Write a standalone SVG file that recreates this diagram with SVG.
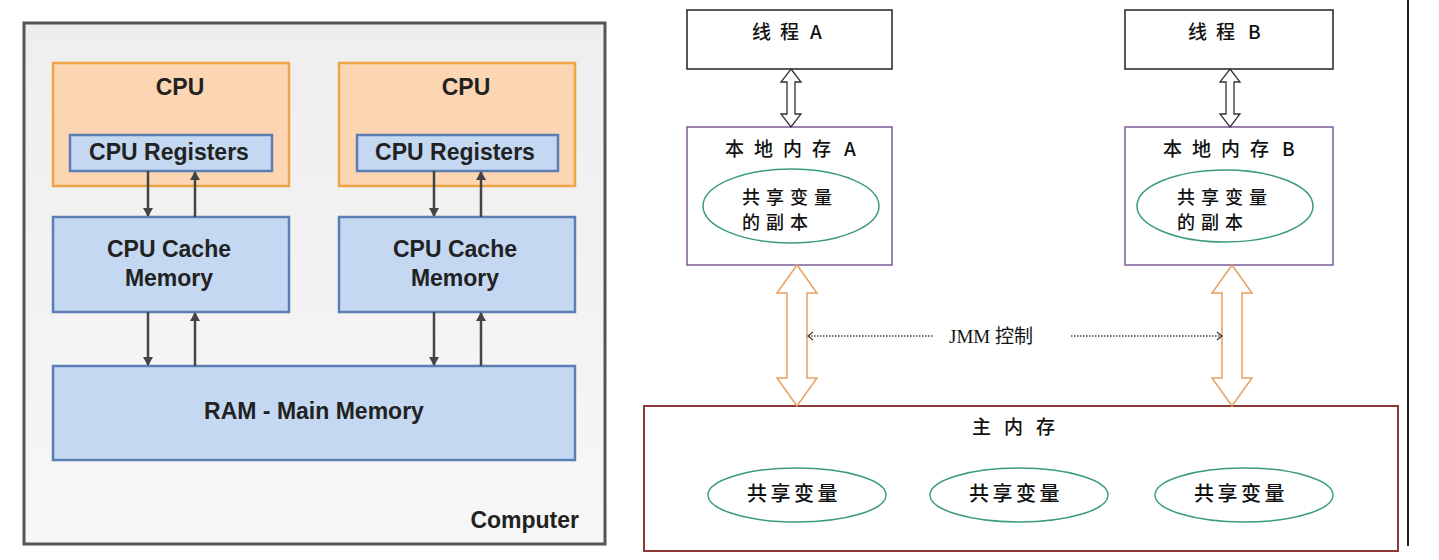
<svg xmlns="http://www.w3.org/2000/svg" width="1439" height="560" viewBox="0 0 1439 560">
<defs>
<linearGradient id="bg" x1="0" y1="0" x2="0" y2="1">
<stop offset="0" stop-color="#eeeeee"/><stop offset="1" stop-color="#f7f7f7"/>
</linearGradient>
<marker id="ah" markerWidth="10" markerHeight="10" refX="8" refY="5" orient="auto-start-reverse" markerUnits="userSpaceOnUse">
<path d="M0,0 L9,5 L0,10 Z" fill="#444"/>
</marker>
<marker id="oh" markerWidth="8" markerHeight="10" refX="6" refY="5" orient="auto-start-reverse" markerUnits="userSpaceOnUse">
<path d="M1,1 L6,5 L1,9" fill="none" stroke="#333" stroke-width="1.2"/>
</marker>
</defs>
<style>
.en{font-family:"Liberation Sans",Arial,sans-serif;font-weight:bold;fill:#222;text-anchor:middle;font-size:23px}
.cn{font-family:"Noto Sans CJK SC","Noto Sans",sans-serif;fill:#111;font-size:19px;font-weight:500}
.cpu{fill:#fcd6b2;stroke:#f0a448;stroke-width:2.5}
.blue{fill:#c5d8f1;stroke:#5b7fb5;stroke-width:2.5}
.link{stroke:#444;stroke-width:2.5;fill:none;marker-end:url(#ah)}
.ell{fill:#fff;stroke:#3a9a80;stroke-width:1.5}
.harrow{fill:#fff;stroke:#333;stroke-width:1.3}
.oarrow{fill:#fff;stroke:#e8a060;stroke-width:1.5}
.dot{stroke:#444;stroke-width:1.5;stroke-dasharray:1.5 1.5;fill:none}
.ev{font-size:20px;letter-spacing:3.5px}
.el{font-size:18px;letter-spacing:6px}
</style>
<rect width="1439" height="560" fill="#fff"/>
<!-- Left panel -->
<g id="computer">
<rect x="24" y="23" width="581" height="521" fill="url(#bg)" stroke="#555" stroke-width="3"/>
<text class="en" x="579" y="528" style="text-anchor:end">Computer</text>
</g>
<g id="cpu1">
<rect class="cpu" x="53" y="63" width="236" height="123"/>
<text class="en" x="180" y="95">CPU</text>
</g>
<g id="reg1">
<rect class="blue" x="70" y="135" width="202" height="36"/>
<text class="en" x="169" y="160">CPU Registers</text>
</g>
<g id="cpu2">
<rect class="cpu" x="339" y="63" width="236" height="123"/>
<text class="en" x="466" y="95">CPU</text>
</g>
<g id="reg2">
<rect class="blue" x="357" y="135" width="201" height="36"/>
<text class="en" x="455" y="160">CPU Registers</text>
</g>
<g id="cache1">
<rect class="blue" x="53" y="217" width="236" height="95"/>
<text class="en" x="169" y="257">CPU Cache</text>
<text class="en" x="169" y="286">Memory</text>
</g>
<g id="cache2">
<rect class="blue" x="339" y="217" width="236" height="95"/>
<text class="en" x="455" y="257">CPU Cache</text>
<text class="en" x="455" y="286">Memory</text>
</g>
<g id="ram">
<rect class="blue" x="53" y="366" width="522" height="94"/>
<text class="en" x="314" y="419">RAM - Main Memory</text>
</g>
<!-- Right panel -->
<line x1="1408" y1="0" x2="1408" y2="546" stroke="#222" stroke-width="2"/>
<g id="threadA">
<rect x="687" y="10" width="205" height="59" fill="#fff" stroke="#222" stroke-width="1.5"/>
<text class="cn" x="752 780 810" y="39">线程A</text>
</g>
<g id="threadB">
<rect x="1125" y="10" width="208" height="59" fill="#fff" stroke="#222" stroke-width="1.5"/>
<text class="cn" x="1188 1216 1248" y="39">线程B</text>
</g>
<g id="localA">
<rect x="687" y="127" width="205" height="138" fill="#fff" stroke="#7a5a9a" stroke-width="1.5"/>
<text class="cn" x="725 754 783 812 844" y="156">本地内存A</text>
<ellipse class="ell" cx="791" cy="206" rx="88" ry="37"/>
<text class="cn el" x="742" y="204">共享变量</text>
<text class="cn el" x="742" y="229">的副本</text>
</g>
<g id="localB">
<rect x="1125" y="127" width="208" height="138" fill="#fff" stroke="#7a5a9a" stroke-width="1.5"/>
<text class="cn" x="1163 1192 1221 1250 1282" y="156">本地内存B</text>
<ellipse class="ell" cx="1225" cy="206" rx="88" ry="36"/>
<text class="cn el" x="1177" y="204">共享变量</text>
<text class="cn el" x="1177" y="229">的副本</text>
</g>
<g id="mainMem">
<rect x="644" y="406" width="754" height="145" fill="#fff" stroke="#8b3a3a" stroke-width="2"/>
<text class="cn" x="972 1004 1036" y="434">主内存</text>
<ellipse class="ell" cx="797" cy="495" rx="89" ry="27"/>
<text class="cn ev" x="747" y="501">共享变量</text>
<ellipse class="ell" cx="1019" cy="495" rx="89" ry="27"/>
<text class="cn ev" x="969" y="501">共享变量</text>
<ellipse class="ell" cx="1244" cy="495" rx="89" ry="27"/>
<text class="cn ev" x="1194" y="501">共享变量</text>
</g>
<g id="connectors">
<line class="link" x1="148" y1="171" x2="148" y2="216"/>
<line class="link" x1="195" y1="217" x2="195" y2="172"/>
<line class="link" x1="434" y1="171" x2="434" y2="216"/>
<line class="link" x1="481" y1="217" x2="481" y2="172"/>
<line class="link" x1="148" y1="312" x2="148" y2="365"/>
<line class="link" x1="195" y1="366" x2="195" y2="313"/>
<line class="link" x1="434" y1="312" x2="434" y2="365"/>
<line class="link" x1="481" y1="366" x2="481" y2="313"/>
<polygon class="harrow" points="791,69 801,82 795,82 795,114 801,114 791,127 781,114 787,114 787,82 781,82"/>
<polygon class="harrow" points="1230,69 1240,82 1234,82 1234,114 1240,114 1230,127 1220,114 1226,114 1226,82 1220,82"/>
<polygon class="oarrow" points="797,265 817,293 807,293 807,378 817,378 797,406 777,378 787,378 787,293 777,293"/>
<polygon class="oarrow" points="1232,265 1252,293 1242,293 1242,378 1252,378 1232,406 1212,378 1222,378 1222,293 1212,293"/>
<line class="dot" x1="808" y1="336" x2="933" y2="336" marker-start="url(#oh)"/>
<line class="dot" x1="1071" y1="336" x2="1222" y2="336" marker-end="url(#oh)"/>
<text x="949" y="343" font-size="19" fill="#111" font-family="'Liberation Serif','Noto Sans CJK SC',serif">JMM <tspan font-family="'Noto Sans CJK SC',sans-serif">控制</tspan></text>
</g>
</svg>
